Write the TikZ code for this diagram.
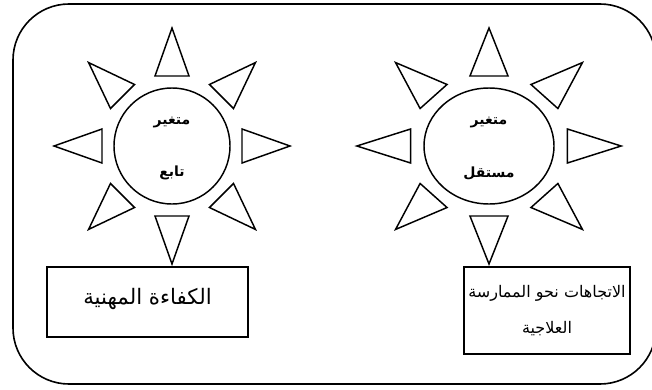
\documentclass[tikz,border=0pt]{standalone}
\usepackage{fontspec}
\newfontfamily\arabicfont[Script=Arabic]{DejaVu Sans}
\TeXXeTstate=1
\usetikzlibrary{shapes.geometric, positioning, calc}

\begin{document}
\begin{tikzpicture}[x=0.75pt, y=-0.75pt,
    sunc/.style={draw, line width=1.1pt, inner sep=0pt},
    ray/.style={draw, line width=1.1pt, line join=miter},
    vbox/.style={rectangle, draw, line width=1.1pt, align=center,
      font=\arabicfont\fontsize{12}{27}\selectfont},
    clab/.style={font=\arabicfont\bfseries\fontsize{10.5}{12}\selectfont}
  ]
  \useasboundingbox (0,0) rectangle (652,389);
  \draw[line width=1.2pt, rounded corners=42pt] (13,4) rectangle (656,384);

  % left sun: dependent variable
  \node[sunc, circle, minimum size=87pt] (dep) at (172,146) {};
  \foreach \a in {0,45,...,315}
    \draw[ray, shift={(dep.center)}, rotate=\a] (70,-17) -- (70,17) -- (118,0) -- cycle;
  \node[clab] (depa) at (172,122) {\beginR متغير\endR};
  \node[clab] (depb) at (172,173) {\beginR تابع\endR};

  % right sun: independent variable
  \node[sunc, ellipse, minimum width=97.5pt, minimum height=87pt] (ind) at (489,146) {};
  \foreach \a in {0,45,...,315}
    \draw[ray, shift={(ind.center)}, xscale=1.12, rotate=\a] (70,-17) -- (70,17) -- (118,0) -- cycle;
  \node[clab] (inda) at (489,122) {\beginR متغير\endR};
  \node[clab] (indb) at (489,173) {\beginR مستقل\endR};

  % boxes
  \node[vbox, minimum width=150.75pt, minimum height=52.5pt, text depth=9pt,
    font=\arabicfont\fontsize{16}{27}\selectfont] (comp) at (147.5,302)
    {\beginR الكفاءة المهنية\endR};
  \node[vbox, minimum width=123pt, minimum height=65.25pt] (att) at (547,310.5)
    {\beginR الاتجاهات نحو الممارسة\endR\\ \beginR العلاجية\endR};
\end{tikzpicture}
\end{document}
